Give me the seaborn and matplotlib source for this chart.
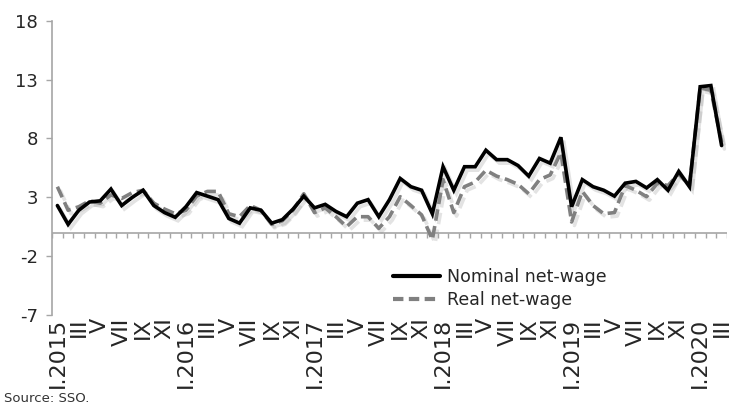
import numpy as np
import pandas as pd
import matplotlib
matplotlib.use("Agg")
import matplotlib.pyplot as plt
import matplotlib.patheffects as pe
import seaborn as sns

# Monthly data, I.2015 - III.2020 (y/y growth, %)
months = ["I", "II", "III", "IV", "V", "VI", "VII", "VIII", "IX", "X", "XI", "XII"]
years = [2015, 2016, 2017, 2018, 2019, 2020]

nominal = [2.3, 0.7, 1.9, 2.6, 2.7, 3.7, 2.3, 3.0, 3.6, 2.3, 1.7, 1.3,
           2.2, 3.4, 3.1, 2.8, 1.2, 0.8, 2.1, 1.9, 0.8, 1.1, 2.0, 3.1,
           2.1, 2.4, 1.8, 1.35, 2.5, 2.8, 1.35, 2.8, 4.6, 3.9, 3.6, 1.6,
           5.6, 3.6, 5.6, 5.6, 7.0, 6.2, 6.2, 5.7, 4.8, 6.3, 5.9, 8.1,
           2.2, 4.5, 3.9, 3.6, 3.1, 4.2, 4.35, 3.8, 4.5, 3.6, 5.2, 3.9,
           12.4, 12.5, 7.4]
real = [3.9, 1.9, 2.2, 2.7, 2.5, 3.2, 2.9, 3.4, 3.6, 2.5, 2.0, 1.6,
        1.9, 3.1, 3.5, 3.5, 1.6, 1.35, 2.3, 1.9, 0.7, 1.0, 1.9, 3.3,
        1.7, 2.1, 1.35, 0.5, 1.35, 1.35, 0.36, 1.35, 3.05, 2.3, 1.5, -0.6,
        4.5, 1.7, 3.9, 4.3, 5.3, 4.8, 4.5, 4.1, 3.3, 4.5, 4.9, 6.8,
        0.9, 3.5, 2.3, 1.6, 1.7, 4.0, 3.6, 3.05, 4.2, 4.0, 5.0, 4.0,
        12.3, 12.1, 7.7]

# category labels (every second month shown)
labels = []
for y in years:
    for i, m in enumerate(months):
        labels.append(f"{m}.{y}" if i == 0 else m)
labels = labels[:len(nominal)]

df = pd.DataFrame({"idx": np.arange(len(nominal)), "nominal": nominal, "real": real})

sns.set_style("white")
plt.rcParams["font.family"] = ["DejaVu Sans"]
plt.rcParams["axes.unicode_minus"] = False

fig = plt.figure(figsize=(7.36, 4.09), dpi=100)
ax = fig.add_axes([0.0707, 0.230, 0.917, 0.719])

sns.lineplot(data=df, x="idx", y="nominal", ax=ax, color="black", linewidth=2.6,
             label="Nominal net-wage")
sns.lineplot(data=df, x="idx", y="real", ax=ax, color="#808080", linewidth=2.6,
             label="Real net-wage")

n = len(nominal)
ax.set_xlim(-0.5, n - 0.5)
ax.set_ylim(-7, 18)
ax.set_yticks([-7, -2, 3, 8, 13, 18])
ax.tick_params(axis="y", labelsize=13, length=4, width=1, color="#a6a6a6",
               direction="out", pad=6, left=True)

# x axis at zero with tick marks between categories
axis_col = "#a6a6a6"
ax.axhline(0, color=axis_col, linewidth=1.2, zorder=1)
ax.vlines(np.arange(n + 1) - 0.5, -0.45, 0, color=axis_col, linewidth=1, zorder=1)

ax.set_xticks(np.arange(0, n, 2))
ax.set_xticklabels(labels[::2], rotation=90, fontsize=16)
ax.tick_params(axis="x", length=0, pad=2)

for s in ["top", "right", "bottom"]:
    ax.spines[s].set_visible(False)
ax.spines["left"].set_color(axis_col)
ax.spines["left"].set_linewidth(1.2)
ax.set_xlabel("")
ax.set_ylabel("")

leg = ax.legend(loc="upper left", bbox_to_anchor=(393 / 736, 1 - 268 / 409),
                bbox_transform=fig.transFigure, frameon=False, fontsize=12.5,
                handlelength=2.7, handletextpad=0.4, labelspacing=0.3,
                borderpad=0, borderaxespad=0)
for h in leg.get_lines():
    h.set_linewidth(3)
leg.get_lines()[1].set_dashes((2.5, 1.3))

# dashes and soft shadow on the data lines (after legend so handles stay plain)
ax.lines[1].set_dashes((3.2, 1.5))
shadow = [pe.SimpleLineShadow(offset=(2, -2.5), shadow_color="#909090", alpha=0.25),
          pe.Normal()]
for ln in ax.lines[:2]:
    ln.set_path_effects(shadow)
    ln.set_solid_joinstyle("miter")
ax.lines[0].set_zorder(3)

fig.text(0.006, 0.018, "Source: SSO.", fontsize=9.5, color="#333333")

fig.savefig("out.png", dpi=100)
